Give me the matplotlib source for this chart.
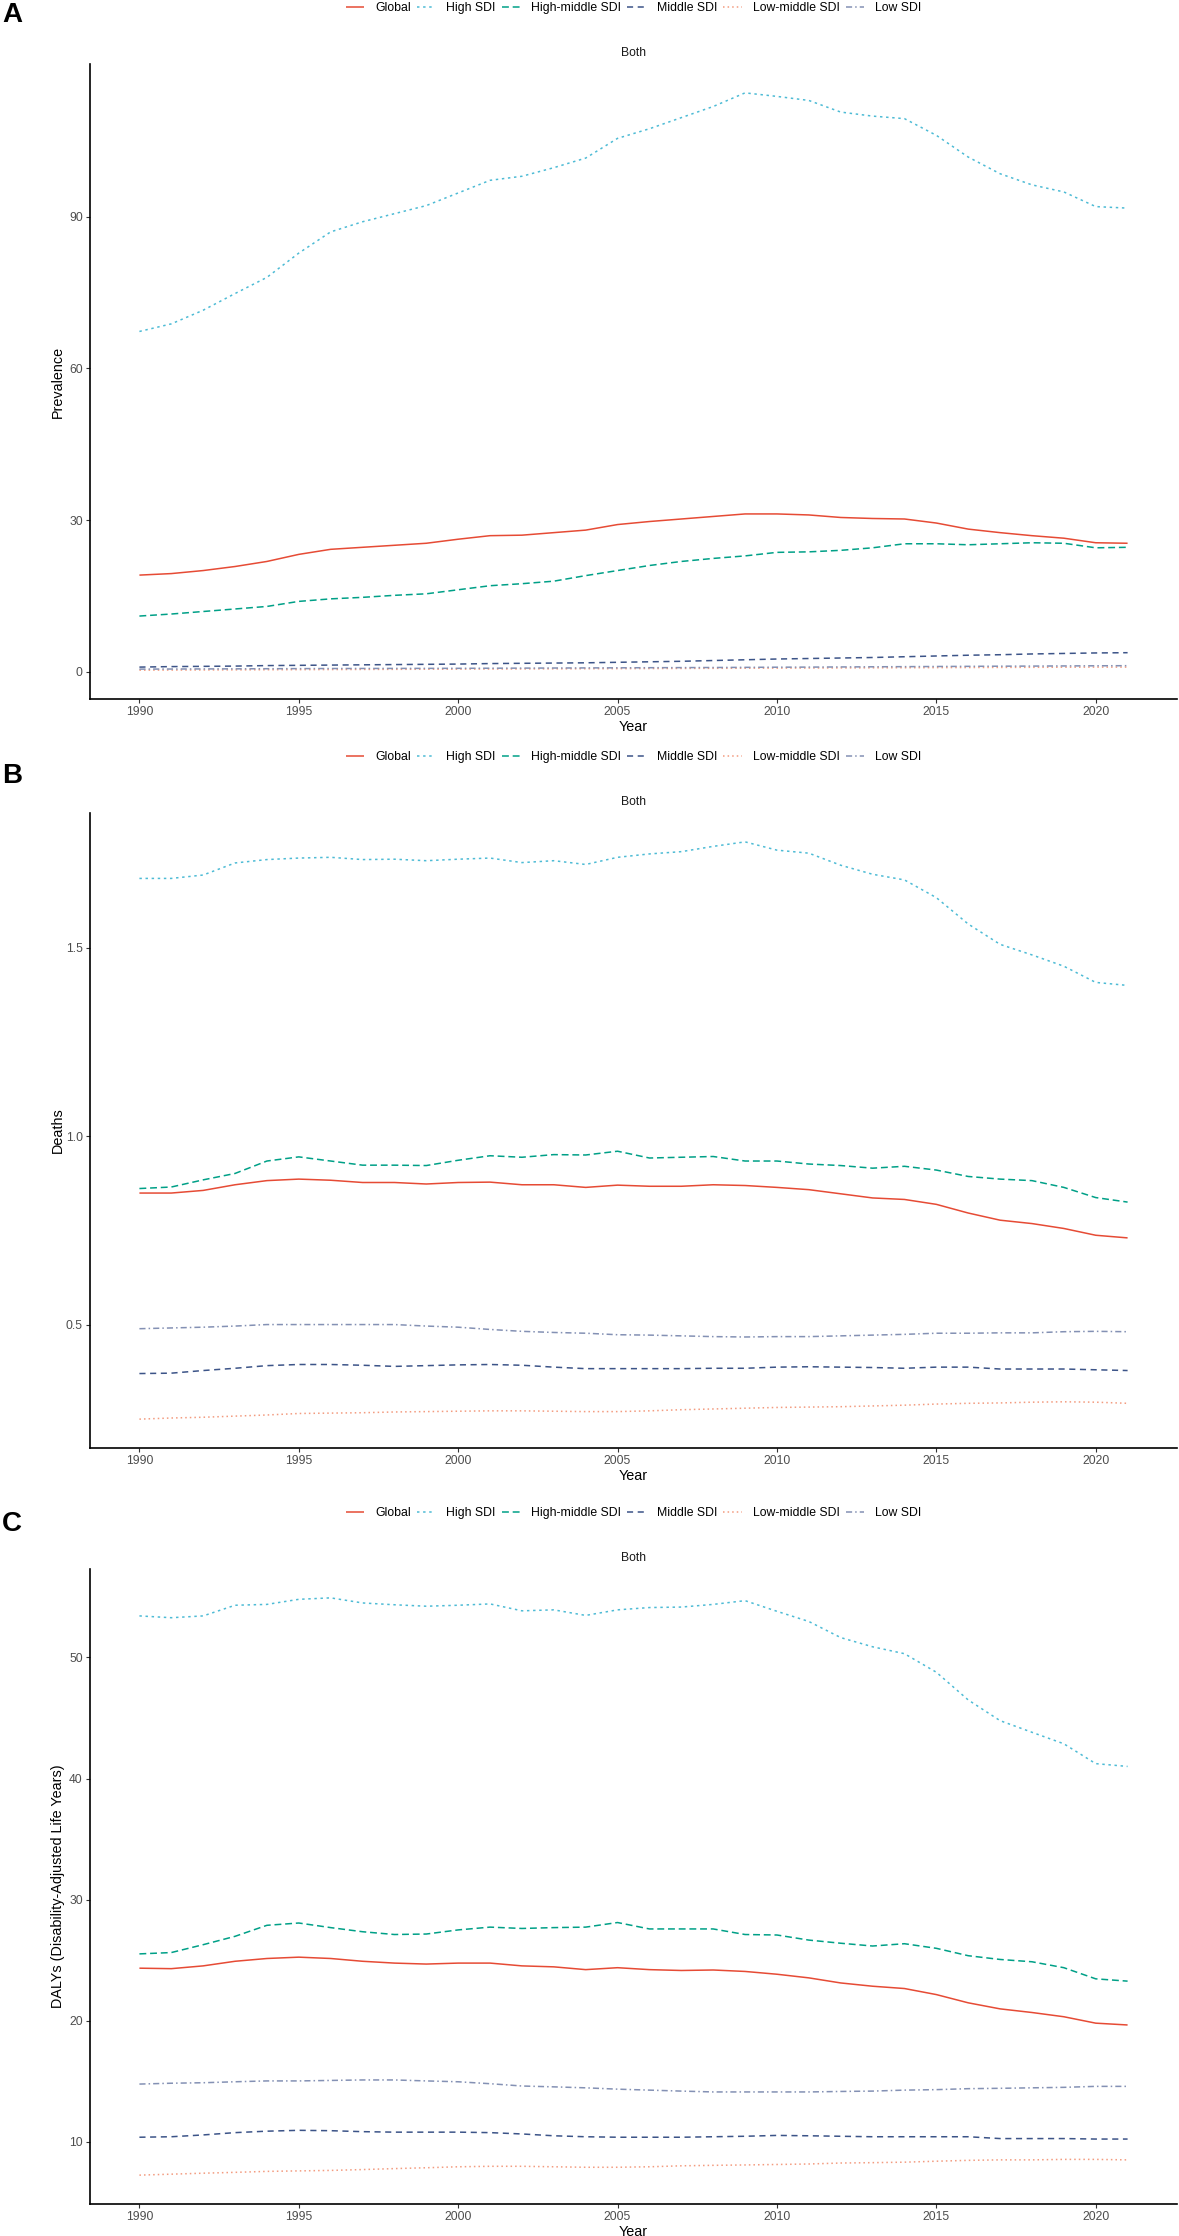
import numpy as np
import matplotlib.pyplot as plt

plt.rcParams['font.family'] = ['Liberation Sans', 'DejaVu Sans']

W, H, DPI = 1179, 2236, 100

years = np.arange(1990, 2022)
groups = ['Global', 'High SDI', 'High-middle SDI', 'Middle SDI', 'Low-middle SDI', 'Low SDI']
colors = ['#E64B35', '#4DBBD5', '#00A087', '#3C5488', '#F39B7F', '#8491B4']
dashes = [None, (1.6, 2.4), (4.5, 2.5), (4, 3), (1, 2), (4, 2, 1, 2)]

# panel A: prevalence
prev_global = [19.1, 19.4, 20.0, 20.8, 21.8, 23.2, 24.2, 24.6, 25.0, 25.4, 26.2, 26.9, 27.0, 27.5, 28.0, 29.1,
               29.7, 30.2, 30.7, 31.2, 31.2, 31.0, 30.5, 30.3, 30.2, 29.4, 28.2, 27.5, 26.9, 26.4, 25.5, 25.4]
prev_high = [67.3, 68.8, 71.5, 74.8, 78.0, 82.8, 87.0, 89.0, 90.6, 92.2, 94.7, 97.2, 98.0, 99.7, 101.6, 105.5,
             107.4, 109.6, 111.8, 114.5, 113.8, 113.0, 110.7, 109.9, 109.4, 106.1, 101.8, 98.5, 96.3, 94.9, 92.0, 91.7]
prev_highmid = [11.0, 11.4, 11.9, 12.4, 12.9, 13.9, 14.4, 14.7, 15.1, 15.4, 16.2, 17.0, 17.4, 17.9, 19.0, 20.0,
                21.0, 21.8, 22.4, 22.9, 23.6, 23.7, 24.0, 24.5, 25.3, 25.3, 25.1, 25.3, 25.5, 25.4, 24.5, 24.6]
prev_mid = [0.9, 1.0, 1.05, 1.1, 1.2, 1.25, 1.3, 1.35, 1.4, 1.45, 1.5, 1.6, 1.65, 1.7, 1.75, 1.85,
            1.95, 2.05, 2.2, 2.35, 2.5, 2.6, 2.7, 2.8, 2.95, 3.1, 3.25, 3.35, 3.5, 3.6, 3.7, 3.75]
prev_lowmid = [0.3, 0.32, 0.34, 0.36, 0.38, 0.4, 0.42, 0.44, 0.46, 0.48, 0.5, 0.52, 0.54, 0.56, 0.58, 0.6,
               0.62, 0.64, 0.66, 0.68, 0.7, 0.72, 0.74, 0.76, 0.78, 0.8, 0.82, 0.84, 0.86, 0.88, 0.9, 0.9]
prev_low = [0.5, 0.52, 0.54, 0.56, 0.58, 0.6, 0.62, 0.63, 0.64, 0.65, 0.66, 0.68, 0.7, 0.72, 0.74, 0.76,
            0.78, 0.8, 0.82, 0.85, 0.88, 0.9, 0.93, 0.96, 0.99, 1.02, 1.05, 1.08, 1.1, 1.13, 1.16, 1.18]

# panel B: deaths
death_global = [0.849, 0.849, 0.856, 0.871, 0.882, 0.886, 0.883, 0.877, 0.877, 0.873, 0.877, 0.878, 0.871, 0.871,
                0.864, 0.870, 0.867, 0.867, 0.871, 0.869, 0.864, 0.858, 0.847, 0.836, 0.832, 0.819, 0.796, 0.777,
                0.768, 0.755, 0.737, 0.730]
death_high = [1.684, 1.684, 1.693, 1.725, 1.734, 1.738, 1.740, 1.734, 1.735, 1.731, 1.735, 1.738, 1.726, 1.731,
              1.721, 1.740, 1.749, 1.755, 1.769, 1.781, 1.759, 1.751, 1.719, 1.695, 1.680, 1.633, 1.563, 1.509,
              1.481, 1.451, 1.408, 1.400]
death_highmid = [0.861, 0.865, 0.884, 0.901, 0.934, 0.945, 0.934, 0.923, 0.923, 0.922, 0.936, 0.948, 0.944, 0.951,
                 0.950, 0.960, 0.942, 0.944, 0.946, 0.934, 0.934, 0.926, 0.922, 0.915, 0.920, 0.910, 0.893, 0.886,
                 0.882, 0.864, 0.837, 0.825]
death_mid = [0.370, 0.371, 0.378, 0.384, 0.391, 0.394, 0.394, 0.392, 0.389, 0.391, 0.393, 0.394, 0.392, 0.387,
             0.383, 0.383, 0.383, 0.383, 0.384, 0.384, 0.387, 0.388, 0.387, 0.386, 0.384, 0.387, 0.387, 0.382,
             0.382, 0.382, 0.380, 0.378]
death_lowmid = [0.249, 0.252, 0.254, 0.257, 0.260, 0.264, 0.265, 0.266, 0.268, 0.269, 0.270, 0.271, 0.271, 0.270,
                0.269, 0.269, 0.271, 0.274, 0.276, 0.278, 0.280, 0.281, 0.282, 0.284, 0.286, 0.289, 0.291, 0.292,
                0.294, 0.295, 0.294, 0.291]
death_low = [0.489, 0.491, 0.493, 0.496, 0.500, 0.500, 0.500, 0.500, 0.500, 0.496, 0.493, 0.487, 0.482, 0.479,
             0.477, 0.473, 0.472, 0.470, 0.468, 0.467, 0.468, 0.468, 0.470, 0.472, 0.474, 0.477, 0.477, 0.478,
             0.478, 0.481, 0.482, 0.481]

# panel C: DALYs
daly_global = [24.34, 24.30, 24.53, 24.91, 25.14, 25.25, 25.14, 24.91, 24.76, 24.68, 24.76, 24.76, 24.53, 24.45,
               24.22, 24.38, 24.22, 24.15, 24.19, 24.07, 23.84, 23.54, 23.12, 22.85, 22.66, 22.16, 21.48, 20.98,
               20.68, 20.33, 19.80, 19.65]
daly_high = [53.43, 53.28, 53.43, 54.31, 54.38, 54.80, 54.92, 54.50, 54.35, 54.23, 54.31, 54.42, 53.85, 53.93,
             53.47, 53.93, 54.12, 54.16, 54.38, 54.69, 53.81, 52.97, 51.64, 50.88, 50.31, 48.78, 46.49, 44.78,
             43.82, 42.87, 41.23, 41.00]
daly_highmid = [25.52, 25.63, 26.28, 26.97, 27.88, 28.07, 27.69, 27.35, 27.12, 27.16, 27.50, 27.73, 27.62, 27.69,
                27.73, 28.11, 27.58, 27.58, 27.58, 27.12, 27.08, 26.66, 26.40, 26.17, 26.36, 25.98, 25.37, 25.06,
                24.87, 24.38, 23.46, 23.27]
daly_mid = [10.38, 10.42, 10.57, 10.76, 10.88, 10.95, 10.92, 10.84, 10.80, 10.80, 10.80, 10.76, 10.65, 10.50,
            10.42, 10.38, 10.38, 10.38, 10.42, 10.46, 10.53, 10.50, 10.46, 10.42, 10.42, 10.42, 10.42, 10.27,
            10.27, 10.27, 10.23, 10.23]
daly_lowmid = [7.25, 7.33, 7.41, 7.48, 7.56, 7.60, 7.64, 7.71, 7.79, 7.86, 7.94, 7.98, 7.98, 7.94, 7.90, 7.90,
               7.94, 8.02, 8.06, 8.09, 8.13, 8.17, 8.25, 8.28, 8.32, 8.40, 8.47, 8.51, 8.51, 8.55, 8.55, 8.51]
daly_low = [14.77, 14.84, 14.88, 14.96, 15.03, 15.03, 15.07, 15.11, 15.11, 15.03, 14.96, 14.80, 14.61, 14.54,
            14.46, 14.35, 14.27, 14.19, 14.12, 14.12, 14.12, 14.12, 14.16, 14.19, 14.27, 14.31, 14.39, 14.42,
            14.46, 14.50, 14.58, 14.58]

panels = [
    ('A', 'Prevalence', [prev_global, prev_high, prev_highmid, prev_mid, prev_lowmid, prev_low], [0, 30, 60, 90], '%d'),
    ('B', 'Deaths', [death_global, death_high, death_highmid, death_mid, death_lowmid, death_low], [0.5, 1.0, 1.5], '%.1f'),
    ('C', 'DALYs (Disability-Adjusted Life Years)',
     [daly_global, daly_high, daly_highmid, daly_mid, daly_lowmid, daly_low], [10, 20, 30, 40, 50], '%d'),
]
offsets = [0, 749, 1505]
tag_y = [15, 776, 1524]

fig = plt.figure(figsize=(W / DPI, H / DPI), dpi=DPI)


def fy(py):
    return 1 - py / H


ax_left, ax_right = 90, 1177
for (tag, ylab, series, yticks, fmt), off, ty in zip(panels, offsets, tag_y):
    top, bot = 64 + off, 699 + off
    ax = fig.add_axes([ax_left / W, fy(bot), (ax_right - ax_left) / W, (bot - top) / H])
    for name, vals, c, d in zip(groups, series, colors, dashes):
        ln, = ax.plot(years, vals, color=c, lw=1.1, label=name, solid_capstyle='butt', dash_capstyle='butt')
        if d is not None:
            ln.set_dashes(d)
    # ggplot-like 5% expansion
    allv = np.concatenate([np.asarray(s, float) for s in series])
    lo, hi = allv.min(), allv.max()
    pad = 0.05 * (hi - lo)
    ax.set_ylim(lo - pad, hi + pad)
    ax.set_xlim(1990 - 0.05 * 31, 2021 + 0.05 * 31)
    ax.set_xticks([1990, 1995, 2000, 2005, 2010, 2015, 2020])
    ax.set_yticks(yticks)
    ax.set_yticklabels([fmt % v for v in yticks])
    for s in ['top', 'right']:
        ax.spines[s].set_visible(False)
    for s in ['left', 'bottom']:
        ax.spines[s].set_linewidth(1.2)
        ax.spines[s].set_color('black')
    ax.tick_params(length=3, width=0.8, color='#333333', labelsize=8.7, labelcolor='#4D4D4D', pad=2.2)
    ax.set_xlabel('Year', fontsize=10.4, color='black')
    ax.xaxis.set_label_coords(0.5, -(720 + off - bot) / (bot - top))
    ax.xaxis.label.set_va('top')
    ax.set_ylabel(ylab, fontsize=10.4, color='black')
    ax.yaxis.set_label_coords((58 - ax_left) / (ax_right - ax_left), 0.5)
    ax.yaxis.label.set_va('center')
    # strip title
    fig.text((ax_left + ax_right) / 2 / W, fy(53 + off), 'Both', ha='center', va='center',
             fontsize=8.7, color='#1A1A1A')
    # legend on top
    leg = ax.legend(loc='center', bbox_to_anchor=(0.5, 1 + (top - (8 + off)) / (bot - top)), ncol=6,
                    frameon=False, fontsize=8.8, handlelength=1.5, handletextpad=0.9, columnspacing=0.5,
                    borderaxespad=0)
    for t in leg.get_texts():
        t.set_color('black')
    fig.text(2 / W, fy(ty), tag, ha='left', va='center', fontsize=20, fontweight='bold')

fig.savefig('out.png', dpi=DPI)
